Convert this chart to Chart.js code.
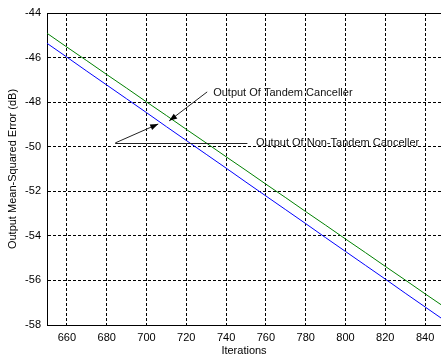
<!DOCTYPE html>
<html lang="en">
<head>
<meta charset="UTF-8">
<title>Output Mean-Squared Error</title>
<script src="https://cdn.jsdelivr.net/npm/chart.js"></script>
<style>
  html, body { margin: 0; padding: 0; background: #fff; overflow: hidden; }
  #wrap { width: 441px; height: 358px; }
</style>
</head>
<body>
<div id="wrap"><canvas id="mse-chart" width="441" height="358"></canvas></div>
<script>
// iterations sampled along the x axis
const iterations = [650, 660, 670, 680, 690, 700, 710, 720, 730, 740, 750,
                    760, 770, 780, 790, 800, 810, 820, 830, 840, 850];
// tandem canceller (green)
const tandemMse = [-44.91, -45.53, -46.14, -46.76, -47.37, -47.99, -48.60, -49.22, -49.83, -50.45, -51.06,
                   -51.68, -52.29, -52.91, -53.52, -54.14, -54.75, -55.37, -55.98, -56.60, -57.21];
// non-tandem canceller (blue)
const nonTandemMse = [-45.36, -45.98, -46.61, -47.23, -47.85, -48.47, -49.10, -49.72, -50.34, -50.96, -51.59,
                      -52.21, -52.83, -53.45, -54.08, -54.70, -55.32, -55.94, -56.57, -57.19, -57.81];

const xTicks = [660, 680, 700, 720, 740, 760, 780, 800, 820, 840];
const yTicks = [-58, -56, -54, -52, -50, -48, -46, -44];

// annotation anchors, in data units (iteration, dB)
const tandemLabel = { text: 'Output Of Tandem Canceller', x: 733.5, y: -47.59 };
const tandemArrow = { from: [730.5, -47.54], to: [711.4, -48.84] };
const nonTandemLabel = { text: 'Output Of Non-Tandem Canceller', x: 755.0, y: -49.83 };
const nonTandemRule = { from: [684.3, -49.83], to: [750.7, -49.83] };
const nonTandemArrow = { from: [684.3, -49.83], to: [705.9, -48.98] };

const FONT = '"Liberation Sans", Arial, sans-serif';

function arrow(ctx, x1, y1, x2, y2) {
    ctx.beginPath();
    ctx.moveTo(x1, y1);
    ctx.lineTo(x2, y2);
    ctx.stroke();
    const a = Math.atan2(y2 - y1, x2 - x1);
    const len = 8, half = 3;
    ctx.beginPath();
    ctx.moveTo(x2, y2);
    ctx.lineTo(x2 - len * Math.cos(a) + half * Math.sin(a), y2 - len * Math.sin(a) - half * Math.cos(a));
    ctx.lineTo(x2 - len * Math.cos(a) - half * Math.sin(a), y2 - len * Math.sin(a) + half * Math.cos(a));
    ctx.closePath();
    ctx.fill();
}

const annotations = {
    id: 'annotations',
    afterDatasetsDraw(chart) {
        const ctx = chart.ctx;
        const xs = chart.scales.x, ys = chart.scales.y;
        const px = v => xs.getPixelForValue(v);
        const py = v => ys.getPixelForValue(v);
        const area = chart.chartArea;

        ctx.save();
        // top frame line
        ctx.strokeStyle = '#000';
        ctx.lineWidth = 1;
        ctx.beginPath();
        ctx.moveTo(area.left, Math.round(area.top) + 0.5);
        ctx.lineTo(area.right, Math.round(area.top) + 0.5);
        ctx.stroke();

        ctx.strokeStyle = '#222';
        ctx.fillStyle = '#000';
        ctx.lineWidth = 1;
        arrow(ctx, px(tandemArrow.from[0]), py(tandemArrow.from[1]), px(tandemArrow.to[0]), py(tandemArrow.to[1]));
        arrow(ctx, px(nonTandemArrow.from[0]), py(nonTandemArrow.from[1]), px(nonTandemArrow.to[0]), py(nonTandemArrow.to[1]));
        ctx.beginPath();
        ctx.moveTo(px(nonTandemRule.from[0]), Math.round(py(nonTandemRule.from[1])) + 0.5);
        ctx.lineTo(px(nonTandemRule.to[0]), Math.round(py(nonTandemRule.to[1])) + 0.5);
        ctx.stroke();

        ctx.font = '11px ' + FONT;
        ctx.fillStyle = '#111';
        ctx.textBaseline = 'middle';
        ctx.textAlign = 'left';
        ctx.fillText(tandemLabel.text, px(tandemLabel.x), py(tandemLabel.y));
        ctx.fillText(nonTandemLabel.text, px(nonTandemLabel.x), py(nonTandemLabel.y));
        ctx.restore();
    }
};

new Chart(document.getElementById('mse-chart').getContext('2d'), {
    type: 'line',
    data: {
        datasets: [
            {
                label: 'Tandem',
                data: iterations.map((it, i) => ({ x: it, y: tandemMse[i] })),
                borderColor: '#008000',
                borderWidth: 1,
                pointRadius: 0,
                tension: 0
            },
            {
                label: 'Non-Tandem',
                data: iterations.map((it, i) => ({ x: it, y: nonTandemMse[i] })),
                borderColor: '#0000ff',
                borderWidth: 1,
                pointRadius: 0,
                tension: 0
            }
        ]
    },
    options: {
        responsive: false,
        animation: false,
        layout: { padding: { top: 13, right: 0, left: 0, bottom: 0 } },
        plugins: {
            legend: { display: false },
            tooltip: { enabled: false }
        },
        scales: {
            x: {
                type: 'linear',
                min: 650,
                max: 848,
                afterBuildTicks: s => { s.ticks = xTicks.map(v => ({ value: v })); },
                afterFit: s => { s.height = 33; },
                grid: { color: '#000', lineWidth: 1, drawTicks: false },
                border: { display: true, color: '#000', width: 1, dash: [3, 2] },
                ticks: { color: '#000', padding: 6, font: { family: FONT, size: 11 }, maxRotation: 0 },
                title: {
                    display: true, text: 'Iterations', color: '#000',
                    font: { family: FONT, size: 11 }, padding: { top: 0, bottom: 0 }
                }
            },
            y: {
                type: 'linear',
                min: -58,
                max: -44,
                afterBuildTicks: s => { s.ticks = yTicks.map(v => ({ value: v })); },
                afterFit: s => { s.width = 47; },
                grid: { color: '#000', lineWidth: 1, drawTicks: false },
                border: { display: true, color: '#000', width: 1, dash: [3, 2] },
                ticks: { color: '#000', padding: 6, font: { family: FONT, size: 11 } },
                title: {
                    display: true, text: 'Output Mean-Squared Error (dB)', color: '#000',
                    font: { family: FONT, size: 11 }, padding: { top: 6, bottom: 0 }
                }
            }
        }
    },
    plugins: [annotations]
});
</script>
</body>
</html>
